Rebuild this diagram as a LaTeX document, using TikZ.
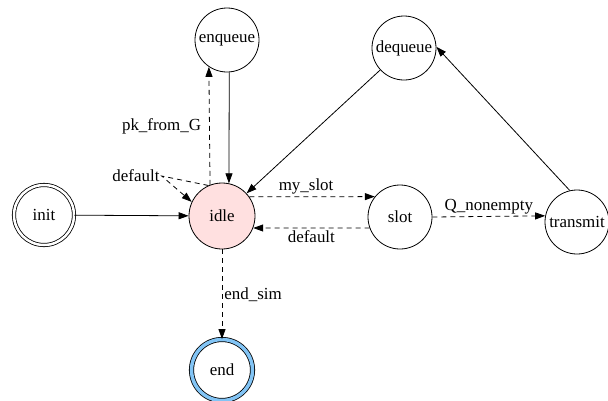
\documentclass[tikz,border=0pt]{standalone}
\usepackage{fontspec}
\setmainfont{Liberation Serif}
\usetikzlibrary{arrows.meta}

\definecolor{idlepink}{RGB}{255,224,224}
\definecolor{endblue}{RGB}{130,196,245}

\begin{document}
\begin{tikzpicture}[
    x=1bp, y=-1bp,
    font=\fontsize{17}{19}\selectfont,
    state/.style={circle, draw, line width=0.8bp, minimum size=64bp, inner sep=0pt},
    trans/.style={line width=0.8bp, -{Triangle[length=10bp,width=7bp]}},
    guard/.style={trans, dash pattern=on 5bp off 4bp},
    lbl/.style={inner sep=2bp}
]
\useasboundingbox (0,0) rectangle (608,400);

% States
\node[state, double, double distance=2.5bp, minimum size=60bp] (init) at (44,215) {init};
\node[state, fill=idlepink, minimum size=66bp] (idle) at (222,216) {idle};
\node[state] (enqueue) at (227,40) {enqueue};
\node[state] (dequeue) at (404,48) {dequeue};
\node[state] (slot) at (400,217) {slot};
\node[state] (transmit) at (577,222) {transmit};
\node[state, double=endblue, double distance=3.5bp, minimum size=61bp] (end) at (222,370) {end};

% Plain transitions
\draw[trans] (init) -- (idle);
\draw[trans] (enqueue.-86) -- (idle.78);
\draw[trans] (dequeue) -- (idle);
\draw[trans] (transmit.103) -- (dequeue.2);

% Guarded transitions
\draw[guard] (idle.111) -- (enqueue.-124)
    node[lbl, pos=0.5, anchor=east, xshift=-6bp] (pk) {pk\_from\_G};
\node[lbl] (loopdef) at (136,176) {default};
\draw[guard] (idle.114) -- (loopdef.east) -- (idle.155);
\draw[guard] (idle.35) -- (slot.141)
    node[lbl, midway, above, xshift=-6bp] (myslot) {my\_slot};
\draw[guard] (slot.200) -- (idle.-21)
    node[lbl, midway, below] (slotdef) {default};
\draw[guard] (slot.east) -- (transmit.169)
    node[lbl, midway, above] (qne) {Q\_nonempty};
\draw[guard] (idle.south) -- (end.north)
    node[lbl, midway, right] (endsim) {end\_sim};

\end{tikzpicture}
\end{document}
